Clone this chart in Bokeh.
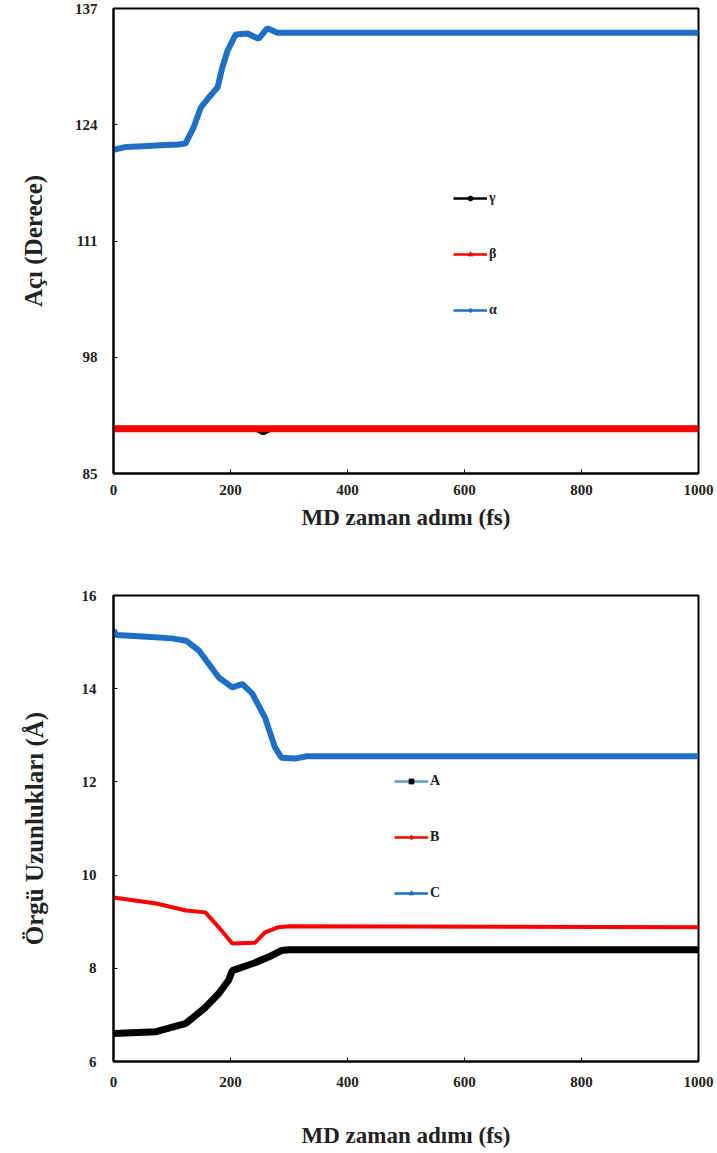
from bokeh.plotting import figure
from bokeh.layouts import column
from bokeh.models import Range1d, FixedTicker, Legend, LegendItem
from bokeh.embed import file_html
from bokeh.resources import INLINE

# ---- data: top chart (angles) ----
t_alpha = [0, 20, 50, 80, 110, 123, 137, 149, 161, 178, 186, 195, 209, 229, 248, 263, 280, 297, 1000]
alpha = [121.2, 121.5, 121.6, 121.7, 121.8, 121.9, 123.7, 125.9, 126.9, 128.2, 130.4, 132.3, 134.1, 134.2, 133.6, 134.8, 134.3, 134.3, 134.3]
t_beta = [0, 1000]
beta = [90.0, 90.0]
t_gamma = [0, 245, 256, 268, 1000]
gamma = [90.0, 90.0, 89.6, 90.0, 90.0]
top_yticks = [85, 98, 111, 124, 137]

# ---- data: bottom chart (lattice lengths) ----
t_A = [0, 73, 124, 157, 180, 197, 203, 242, 270, 287, 300, 1000]
len_A = [6.6, 6.64, 6.82, 7.16, 7.46, 7.75, 7.95, 8.12, 8.27, 8.38, 8.4, 8.4]
t_B = [0, 73, 124, 157, 180, 203, 242, 259, 281, 300, 1000]
len_B = [9.52, 9.39, 9.24, 9.2, 8.88, 8.53, 8.55, 8.77, 8.88, 8.9, 8.88]
t_C = [0, 5, 50, 100, 124, 146, 180, 203, 220, 237, 259, 276, 287, 310, 330, 1000]
len_C = [15.25, 15.15, 15.12, 15.08, 15.03, 14.82, 14.24, 14.03, 14.1, 13.9, 13.38, 12.74, 12.52, 12.5, 12.55, 12.55]
bottom_yticks = [6, 8, 10, 12, 14, 16]
xticks = [0, 200, 400, 600, 800, 1000]

BLUE = "#1f6fc5"
RED = "#ff0000"
BLACK = "#000000"
FONT = "Liberation Serif"


def style(p, xlabel, ylabel, yticks, lab_standoff_x, title_standoff_x, lab_standoff_y, title_standoff_y):
    p.outline_line_color = "black"
    p.outline_line_width = 2
    p.grid.visible = False
    p.xaxis.ticker = FixedTicker(ticks=xticks)
    p.yaxis.ticker = FixedTicker(ticks=yticks)
    for ax in (p.xaxis[0], p.yaxis[0]):
        ax.axis_line_color = "black"
        ax.axis_line_width = 2
        ax.major_tick_in = 4
        ax.major_tick_out = 0
        ax.major_tick_line_color = "black"
        ax.minor_tick_line_color = None
        ax.major_label_text_font = FONT
        ax.major_label_text_font_style = "bold"
        ax.major_label_text_font_size = "15px"
        ax.major_label_text_color = "#222222"
        ax.axis_label_text_font = FONT
        ax.axis_label_text_font_style = "bold"
        ax.axis_label_text_color = "#222222"
    p.xaxis.axis_label_text_font_size = "23px"
    p.yaxis.axis_label_text_font_size = "25px"
    p.xaxis.axis_label = xlabel
    p.yaxis.axis_label = ylabel
    p.xaxis.major_label_standoff = lab_standoff_x
    p.xaxis.axis_label_standoff = title_standoff_x
    p.yaxis.major_label_standoff = lab_standoff_y
    p.yaxis.axis_label_standoff = title_standoff_y


def legend_entry(p, label, xs, ys, line_color, marker, marker_color):
    lr = p.line(xs, ys, line_color=line_color, line_width=2.5, visible=False)
    sr = p.scatter(xs, ys, marker=marker, size=6, fill_color=marker_color,
                   line_color=marker_color, visible=False)
    return LegendItem(label=label, renderers=[lr, sr])


def make_legend(items, loc):
    lg = Legend(items=items, location=loc)
    lg.label_text_font = FONT
    lg.label_text_font_style = "bold"
    lg.label_text_font_size = "14px"
    lg.label_text_color = "#222222"
    lg.glyph_width = 34
    lg.glyph_height = 12
    lg.label_height = 12
    lg.label_standoff = 2
    lg.spacing = 40
    lg.padding = 0
    lg.margin = 0
    lg.background_fill_alpha = 0
    lg.border_line_alpha = 0
    return lg


# ---- top figure ----
p1 = figure(width=717, height=560, output_backend="svg", toolbar_location=None,
            x_range=Range1d(0, 1000), y_range=Range1d(85, 137),
            min_border_left=113, min_border_right=19, min_border_top=8, min_border_bottom=87)
style(p1, "MD zaman adımı (fs)", "Açı (Derece)", top_yticks, 11, 7, 16, 25)
p1.line(t_gamma, gamma, line_color=BLACK, line_width=6)
p1.line(t_beta, beta, line_color=RED, line_width=7)
p1.line(t_alpha, alpha, line_color=BLUE, line_width=6)
items1 = [
    legend_entry(p1, "γ", t_gamma, gamma, BLACK, "circle", BLACK),
    legend_entry(p1, "β", t_beta, beta, RED, "triangle", RED),
    legend_entry(p1, "α", t_alpha, alpha, BLUE, "diamond", BLUE),
]
p1.add_layout(make_legend(items1, (340, 155)))

# ---- bottom figure ----
p2 = figure(width=717, height=593, output_backend="svg", toolbar_location=None,
            x_range=Range1d(0, 1000), y_range=Range1d(6, 16),
            min_border_left=107, min_border_right=19, min_border_top=35, min_border_bottom=92)
style(p2, "MD zaman adımı (fs)", "Örgü Uzunlukları (Å)", bottom_yticks, 15, 33, 17, 31)
p2.line(t_A, len_A, line_color=BLACK, line_width=7)
p2.line(t_B, len_B, line_color=RED, line_width=4)
p2.line(t_C, len_C, line_color=BLUE, line_width=6)
items2 = [
    legend_entry(p2, "A", t_A, len_A, "#5b9bd5", "square", BLACK),
    legend_entry(p2, "B", t_B, len_B, RED, "diamond", RED),
    legend_entry(p2, "C", t_C, len_C, BLUE, "triangle", BLUE),
]
p2.add_layout(make_legend(items2, (281, 160)))

layout = column(p1, p2, spacing=0)
open("out.html", "w").write(file_html(layout, INLINE))
